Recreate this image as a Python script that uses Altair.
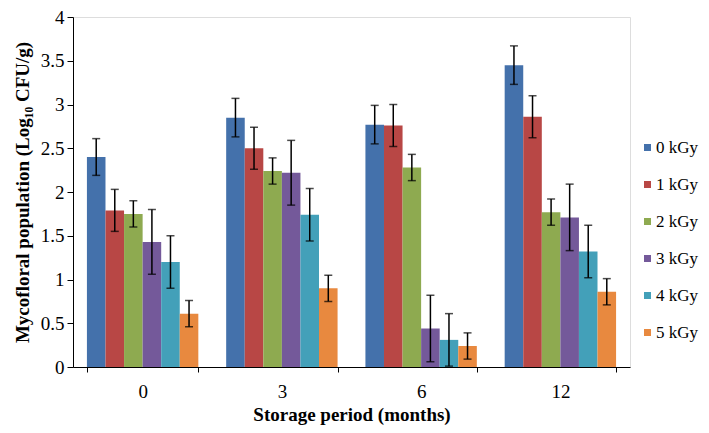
import altair as alt
import pandas as pd

months = ["0", "3", "6", "12"]
doses = ["0 kGy", "1 kGy", "2 kGy", "3 kGy", "4 kGy", "5 kGy"]
values = {
    "0 kGy": [2.40, 2.85, 2.77, 3.45],
    "1 kGy": [1.79, 2.50, 2.76, 2.86],
    "2 kGy": [1.75, 2.24, 2.28, 1.77],
    "3 kGy": [1.43, 2.22, 0.44, 1.71],
    "4 kGy": [1.20, 1.74, 0.31, 1.32],
    "5 kGy": [0.61, 0.90, 0.24, 0.86],
}
errors = {
    "0 kGy": [0.21, 0.22, 0.22, 0.22],
    "1 kGy": [0.24, 0.24, 0.24, 0.24],
    "2 kGy": [0.15, 0.15, 0.15, 0.15],
    "3 kGy": [0.37, 0.37, 0.38, 0.38],
    "4 kGy": [0.30, 0.30, 0.30, 0.30],
    "5 kGy": [0.15, 0.15, 0.15, 0.15],
}
colors = ["#4471AB", "#B84745", "#8EAA50", "#74599A", "#43A0B9", "#E8893F"]

rows = []
for d in doses:
    for i, m in enumerate(months):
        rows.append({"month": m, "dose": d, "value": values[d][i], "err": errors[d][i]})
df = pd.DataFrame(rows)

FONT = "'Liberation Serif', 'Times New Roman', serif"

x = alt.X(
    "month:N",
    sort=months,
    scale=alt.Scale(paddingInner=0.2, paddingOuter=0.1),
    axis=alt.Axis(
        title="Storage period (months)",
        labelAngle=0,
        tickBand="extent",
        tickSize=5,
        tickColor="black",
        domainColor="black",
        labelFontSize=19,
        labelFont=FONT,
        labelColor="black",
        labelPadding=10,
        titleFont=FONT,
        titleFontSize=19,
        titleFontWeight="bold",
        titleColor="black",
        titlePadding=4,
    ),
)
xoff = alt.XOffset("dose:N", sort=doses, scale=alt.Scale(paddingInner=0, paddingOuter=0))
y = alt.Y(
    "value:Q",
    scale=alt.Scale(domain=[0, 4], nice=False),
    axis=alt.Axis(
        title="Mycofloral population (Log₁₀ CFU/g)",
        values=[0, 0.5, 1, 1.5, 2, 2.5, 3, 3.5, 4],
        format="~g",
        grid=False,
        tickSize=6,
        tickColor="black",
        domainColor="black",
        labelFontSize=19,
        labelFont=FONT,
        labelColor="black",
        labelPadding=3,
        titleFont=FONT,
        titleFontSize=19,
        titleFontWeight="bold",
        titleColor="black",
        titlePadding=8,
    ),
)

base = alt.Chart(df).transform_calculate(
    lo="datum.value - datum.err", hi="datum.value + datum.err"
)

bars = base.mark_bar().encode(
    x=x,
    xOffset=xoff,
    y=y,
    color=alt.Color(
        "dose:N",
        sort=doses,
        scale=alt.Scale(domain=doses, range=colors),
        legend=alt.Legend(
            title=None,
            orient="none",
            legendX=566,
            legendY=122,
            symbolType="square",
            symbolSize=49,
            symbolStrokeWidth=0,
            labelFont=FONT,
            labelFontSize=17,
            labelColor="black",
            labelOffset=0,
            rowPadding=19,
        ),
    ),
)

rules = base.mark_rule(color="black", strokeWidth=1.5).encode(
    x=x, xOffset=xoff, y="lo:Q", y2="hi:Q"
)
caps_lo = base.mark_tick(color="black", thickness=1.5, size=8).encode(
    x=x, xOffset=xoff, y="lo:Q"
)
caps_hi = base.mark_tick(color="black", thickness=1.5, size=8).encode(
    x=x, xOffset=xoff, y="hi:Q"
)

chart = (
    alt.layer(bars, rules, caps_lo, caps_hi)
    .properties(
        width=557,
        height=350,
        autosize=alt.AutoSizeParams(type="none"),
        padding={"left": 65, "top": 9, "right": 70, "bottom": 58},
    )
    .configure_view(stroke=None)
    .configure(background="white")
)

chart.save("out.html", embed_options={"renderer": "svg", "actions": False})
